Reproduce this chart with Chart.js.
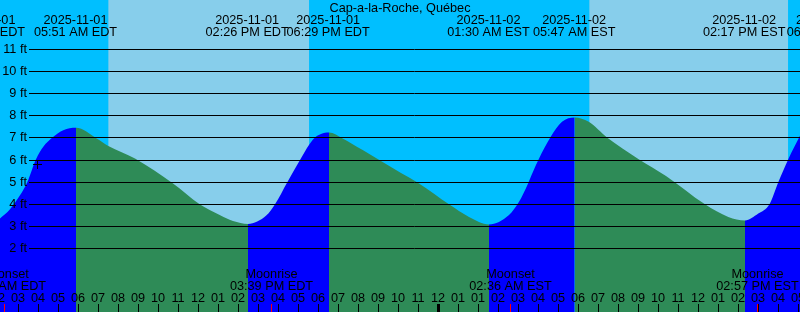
<!DOCTYPE html>
<html>
<head>
<meta charset="utf-8">
<script src="https://cdn.jsdelivr.net/npm/chart.js@4"></script>
<style>
html,body{margin:0;padding:0;background:#00BFFF;overflow:hidden}
canvas{display:block}
</style>
</head>
<body>
<canvas id="c" width="800" height="312"></canvas>
<script>
// All times: hours elapsed since 2025-11-01 00:00 EDT
// (DST ends 2025-11-02 02:00 EDT = 01:00 EST, i.e. at hour 26)
const chartTitle = 'Cap-a-la-Roche, Québec';

// Tide level (ft)
const tideHours = [2.075, 2.575, 3.075, 3.44, 3.875, 4.24, 4.71, 5.24, 5.875,
  6.91, 7.49, 8.825, 10.725, 12.06, 13.06, 13.725, 14.475,
  15.4, 15.825, 16.44, 17.075, 17.54, 17.8, 18.125, 18.525,
  19.21, 20.21, 21.04, 22.125, 23.025, 24.525, 25.525, 26.525,
  27.525, 28.025, 28.44, 28.725, 29.01, 29.59, 30.175, 30.81,
  31.51, 32.425, 34.01, 35.375, 37.325, 38.49, 39.325,
  39.99, 40.55, 40.99, 41.49, 42.075];
const tideFeet = [3.36, 3.78, 4.41, 5.0, 6.04, 6.60, 7.03, 7.35, 7.46,
  6.98, 6.64, 6.07, 4.94, 4.0, 3.51, 3.24, 3.11,
  3.5, 4.0, 5.0, 6.0, 6.7, 7.0, 7.18, 7.25,
  6.98, 6.45, 6.0, 5.41, 4.94, 4.0, 3.43, 3.09,
  3.51, 4.11, 4.86, 5.47, 6.04, 7.02, 7.73, 7.93,
  7.73, 7.02, 6.04, 5.28, 4.0, 3.43, 3.27,
  3.58, 4.0, 5.0, 6.04, 7.10];

// Daylight
const sunriseHours = [7.485, 31.535];
const sunsetHours = [17.535, 41.485];

// High / low tide labels
const eventHours = [1.25, 5.85, 14.433, 18.483, 26.5, 30.783, 39.283, 43.47];
const eventDates = ['2025-11-01', '2025-11-01', '2025-11-01', '2025-11-01',
  '2025-11-02', '2025-11-02', '2025-11-02', '2025-11-02'];
const eventTimes = ['01:15 AM EDT', '05:51 AM EDT', '02:26 PM EDT', '06:29 PM EDT',
  '01:30 AM EST', '05:47 AM EST', '02:17 PM EST', '06:28 PM EST'];

// Moon events
const moonHours = [2.3, 15.65, 27.6, 39.95];
const moonNames = ['Moonset', 'Moonrise', 'Moonset', 'Moonrise'];
const moonTimes = ['02:18 AM EDT', '03:39 PM EDT', '02:36 AM EST', '02:57 PM EST'];

// Hour ticks along the bottom
const hourTicks = [2, 3, 4, 5, 6, 7, 8, 9, 10, 11, 12, 13, 14, 15, 16, 17, 18, 19, 20, 21,
  22, 23, 24, 25, 26, 27, 28, 29, 30, 31, 32, 33, 34, 35, 36, 37, 38, 39, 40, 41, 42];
const hourLabels = ['02', '03', '04', '05', '06', '07', '08', '09', '10', '11', '12', '01',
  '02', '03', '04', '05', '06', '07', '08', '09', '10', '11', '12', '01', '01', '02', '03',
  '04', '05', '06', '07', '08', '09', '10', '11', '12', '01', '02', '03', '04', '05'];
const midnightHours = [24];

// Level grid
const footTicks = [2, 3, 4, 5, 6, 7, 8, 9, 10, 11];

// "+" mark
const markHours = [3.95];
const markFeet = [5.8];

const hourRange = [2.075, 42.075];
const footRange = [-0.872, 13.239];

const BLUE = '#0000FF', GREEN = '#2E8B57', DAY = '#87CEEB';
const FONT = '12.7px "Liberation Sans", Arial, sans-serif';

const pts = (xs, ys) => xs.map((v, i) => ({x: v, y: ys[i]}));

const bandData = [];
sunriseHours.forEach((h, i) => {
  bandData.push({x: h, y: footRange[1]}, {x: sunsetHours[i], y: footRange[1]},
    {x: sunsetHours[i] + 1, y: null});
});

const overlay = {
  id: 'overlay',
  afterDatasetsDraw(chart) {
    const {ctx, scales: {x, y}} = chart;
    const W = chart.width, H = chart.height;
    ctx.save();
    ctx.strokeStyle = '#000';
    ctx.lineWidth = 1;
    footTicks.forEach(f => {
      const py = Math.floor(y.getPixelForValue(f)) + 0.5;
      ctx.beginPath(); ctx.moveTo(29, py); ctx.lineTo(W, py); ctx.stroke();
    });
    ctx.font = FONT;
    ctx.fillStyle = '#000';
    ctx.textBaseline = 'alphabetic';
    ctx.textAlign = 'right';
    footTicks.forEach(f => {
      const py = Math.floor(y.getPixelForValue(f));
      ctx.fillText(f + ' ft', 27, py + 4);
    });
    ctx.textAlign = 'center';
    ctx.fillText(chartTitle, W / 2, 12);
    eventHours.forEach((h, i) => {
      const px = x.getPixelForValue(h);
      ctx.fillText(eventDates[i], px, 24);
      ctx.fillText(eventTimes[i], px, 36);
    });
    moonHours.forEach((h, i) => {
      const px = x.getPixelForValue(h);
      ctx.fillText(moonNames[i], px, 278);
      ctx.fillText(moonTimes[i], px, 290);
    });
    hourTicks.forEach((h, i) => {
      const px = Math.floor(x.getPixelForValue(h));
      ctx.fillText(hourLabels[i], px, 302);
      ctx.beginPath(); ctx.moveTo(px + 0.5, 304); ctx.lineTo(px + 0.5, H); ctx.stroke();
    });
    midnightHours.forEach(h => {
      const px = Math.floor(x.getPixelForValue(h));
      ctx.fillRect(px - 1, 304, 3, H - 304);
    });
    ctx.strokeStyle = '#FF0000';
    moonHours.forEach(h => {
      const px = Math.floor(x.getPixelForValue(h)) + 0.5;
      ctx.beginPath(); ctx.moveTo(px, 304); ctx.lineTo(px, H); ctx.stroke();
    });
    ctx.restore();
  }
};

new Chart(document.getElementById('c'), {
  type: 'line',
  data: {
    datasets: [
      {
        data: bandData, order: 3, fill: 'start', backgroundColor: DAY,
        borderColor: 'rgba(0,0,0,0)', borderWidth: 0, pointRadius: 0, spanGaps: false, tension: 0
      },
      {
        data: pts(tideHours, tideFeet), order: 2, fill: 'start', backgroundColor: GREEN,
        borderColor: 'rgba(0,0,0,0)', borderWidth: 0, pointRadius: 0,
        cubicInterpolationMode: 'monotone',
        segment: {backgroundColor: c => (c.p1.parsed.y > c.p0.parsed.y ? BLUE : GREEN)}
      },
      {
        data: pts(markHours, markFeet), order: 1, showLine: false, fill: false,
        pointStyle: 'cross', pointRadius: 4.5, borderColor: '#000', borderWidth: 1,
        backgroundColor: '#000'
      }
    ]
  },
  options: {
    responsive: false, animation: false, devicePixelRatio: 1, events: [],
    layout: {padding: 0, autoPadding: false},
    plugins: {legend: {display: false}, tooltip: {enabled: false}, title: {display: false}},
    scales: {
      x: {type: 'linear', min: hourRange[0], max: hourRange[1], display: false},
      y: {type: 'linear', min: footRange[0], max: footRange[1], display: false}
    }
  },
  plugins: [overlay]
});
</script>
</body>
</html>
